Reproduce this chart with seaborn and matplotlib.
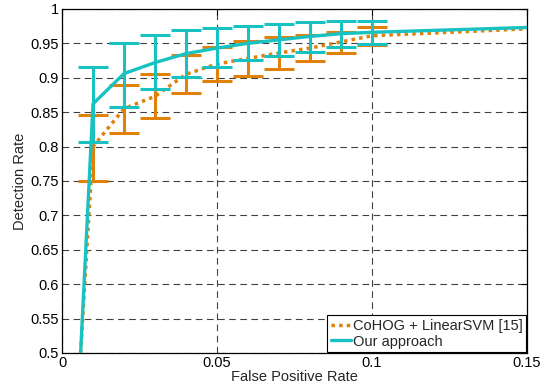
import matplotlib
matplotlib.use("Agg")
import matplotlib.pyplot as plt
import seaborn as sns
import pandas as pd
import numpy as np

# ---- data ----
fpr = [0.006, 0.01, 0.02, 0.03, 0.04, 0.05, 0.06, 0.07, 0.08, 0.09, 0.10, 0.15]
ours_mean = [0.50, 0.862, 0.906, 0.922, 0.935, 0.943, 0.950, 0.955, 0.960, 0.964, 0.966, 0.973]
cohog_mean = [0.50, 0.800, 0.855, 0.873, 0.905, 0.920, 0.928, 0.936, 0.943, 0.952, 0.961, 0.971]

err_fpr = [0.01, 0.02, 0.03, 0.04, 0.05, 0.06, 0.07, 0.08, 0.09, 0.10]
ours_low = [0.807, 0.858, 0.884, 0.901, 0.916, 0.926, 0.931, 0.938, 0.945, 0.949]
ours_high = [0.916, 0.951, 0.962, 0.969, 0.972, 0.975, 0.978, 0.981, 0.983, 0.983]
cohog_low = [0.750, 0.820, 0.842, 0.878, 0.895, 0.903, 0.913, 0.924, 0.936, 0.948]
cohog_high = [0.846, 0.890, 0.905, 0.933, 0.945, 0.954, 0.959, 0.962, 0.967, 0.974]

labels = ["CoHOG + LinearSVM [15]", "Our approach"]
x_ticks = [0, 0.05, 0.1, 0.15]
x_tick_labels = ["0", "0.05", "0.1", "0.15"]
y_ticks = [0.5, 0.55, 0.6, 0.65, 0.7, 0.75, 0.8, 0.85, 0.9, 0.95, 1.0]
y_tick_labels = ["0.5", "0.55", "0.6", "0.65", "0.7", "0.75", "0.8", "0.85", "0.9", "0.95", "1"]

orange = "#E0820A"
cyan = "#18C2C2"

sns.set_style("white")
plt.rcParams['font.family'] = ['Liberation Sans', 'DejaVu Sans']
plt.rcParams['font.size'] = 10.5

fig = plt.figure(figsize=(5.46, 3.87), dpi=100)
ax = fig.add_axes([0.1136, 0.088, 0.8514, 0.889])

df = pd.DataFrame({
    "fpr": fpr + fpr,
    "rate": cohog_mean + ours_mean,
    "method": [labels[0]] * len(fpr) + [labels[1]] * len(fpr),
})

# grid
ax.set_axisbelow(True)
ax.grid(True, color="black", linestyle=(0, (6, 4)), linewidth=0.8, alpha=0.75)

# CoHOG error bars + line
c_mean_err = [(l + h) / 2 for l, h in zip(cohog_low, cohog_high)]
ax.errorbar(err_fpr, c_mean_err,
            yerr=[np.array(c_mean_err) - np.array(cohog_low), np.array(cohog_high) - np.array(c_mean_err)],
            fmt="none", ecolor=orange, elinewidth=2.2, capsize=10.8, capthick=2.2, zorder=3)
sns.lineplot(data=df[df.method == labels[0]], x="fpr", y="rate", ax=ax, color=orange,
             linestyle=(0, (1, 1.2)), linewidth=2.5, label=labels[0], zorder=4)

o_mean_err = [(l + h) / 2 for l, h in zip(ours_low, ours_high)]
ax.errorbar(err_fpr, o_mean_err,
            yerr=[np.array(o_mean_err) - np.array(ours_low), np.array(ours_high) - np.array(o_mean_err)],
            fmt="none", ecolor=cyan, elinewidth=2.2, capsize=10.8, capthick=2.2, zorder=5)
sns.lineplot(data=df[df.method == labels[1]], x="fpr", y="rate", ax=ax, color=cyan,
             linewidth=2.4, label=labels[1], zorder=6)

ax.set_xlim(0, 0.15)
ax.set_ylim(0.5, 1.0)
ax.set_xticks(x_ticks)
ax.set_xticklabels(x_tick_labels)
ax.set_yticks(y_ticks)
ax.set_yticklabels(y_tick_labels)
ax.set_xlabel("False Positive Rate", labelpad=0)
ax.set_ylabel("Detection Rate", labelpad=3)
ax.tick_params(direction="in", length=4, width=0.8, top=True, right=True, colors="black", pad=2)
for s in ax.spines.values():
    s.set_visible(True)
    s.set_color("black")
    s.set_linewidth(0.9)

leg = ax.legend(loc="lower right", frameon=True, fancybox=False, framealpha=1,
                edgecolor="black", handlelength=1.4, handletextpad=0.1,
                borderpad=0.25, labelspacing=0.1, borderaxespad=0.05, fontsize=10.5)
leg.get_frame().set_linewidth(0.8)

fig.savefig("out.png", dpi=100)
